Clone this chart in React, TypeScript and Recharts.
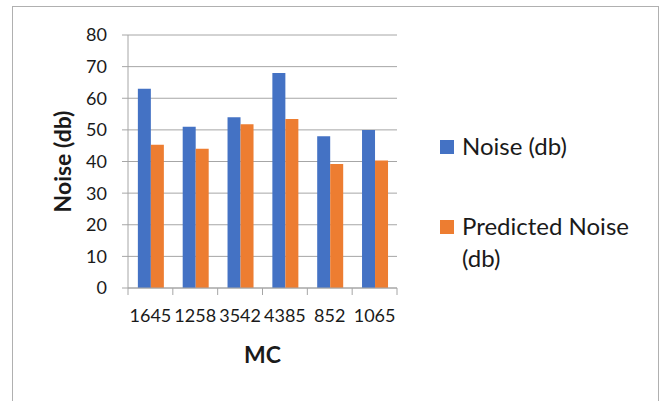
import React from "react";
import { BarChart, Bar, XAxis, YAxis, CartesianGrid } from "recharts";

const categories = ["1645", "1258", "3542", "4385", "852", "1065"];
const noise = [63, 51, 54, 68, 48, 50];
const predicted = [45.3, 44, 51.8, 53.4, 39.2, 40.3];
const yTicks = [0, 10, 20, 30, 40, 50, 60, 70, 80];

const series = [
  { key: "noise", name: "Noise (db)", color: "#4472C4" },
  { key: "predicted", name: "Predicted Noise (db)", color: "#ED7D31" },
];

const data = categories.map((mc, i) => ({ mc, noise: noise[i], predicted: predicted[i] }));

const W = 662;
const H = 401;
const Y_AXIS_W = 128;
const X_AXIS_H = 113;
const MARGIN = { top: 35, right: 265, bottom: 0, left: 0 };
const PLOT_W = W - Y_AXIS_W - MARGIN.right;
const BAND = PLOT_W / categories.length;
const GRID = "#a6a6a6";
const FONT = "Lato, 'Open Sans', sans-serif";

function XTick(props: any) {
  const { x, y, payload, index } = props;
  const axisY = y - 21;
  return (
    <g>
      <line x1={x - BAND / 2} x2={x - BAND / 2} y1={axisY} y2={axisY + 7} stroke={GRID} />
      {index === categories.length - 1 && (
        <line x1={x + BAND / 2} x2={x + BAND / 2} y1={axisY} y2={axisY + 7} stroke={GRID} />
      )}
      <text x={x} y={y} dy="0.71em" textAnchor="middle" fontSize={18} fill="#1a1a1a" fontFamily={FONT}>
        {payload.value}
      </text>
    </g>
  );
}

export default function App() {
  return (
    <div style={{ position: "absolute", left: 0, top: 0, width: W, height: H, background: "#fff", overflow: "hidden", fontFamily: FONT }}>
      <div style={{ position: "absolute", left: 12, top: 6, width: 645, height: 420, border: "1px solid #b0b0b0" }} />
      <div style={{ position: "absolute", left: 0, top: 0 }}>
        <BarChart width={W} height={H} data={data} margin={MARGIN} barCategoryGap="22%" barGap={0}>
          <CartesianGrid vertical={false} stroke={GRID} />
          <XAxis
            dataKey="mc"
            height={X_AXIS_H}
            axisLine={{ stroke: GRID }}
            tickLine={false}
            tickSize={7}
            tickMargin={14}
            interval={0}
            tick={<XTick />}
            label={{
              content: (p: any) => {
                const vb = p.viewBox;
                return (
                  <text x={vb.x + vb.width / 2} y={vb.y + 75} textAnchor="middle" fontSize={23} fontWeight="bold" fill="#1a1a1a" fontFamily={FONT}>
                    MC
                  </text>
                );
              },
            }}
          />
          <YAxis
            width={Y_AXIS_W}
            domain={[0, 80]}
            ticks={yTicks}
            interval={0}
            axisLine={{ stroke: GRID }}
            tickLine={{ stroke: GRID }}
            tickSize={6}
            tickMargin={15}
            tick={{ fontSize: 18, fill: "#1a1a1a", fontFamily: FONT }}
            label={{
              content: (p: any) => {
                const vb = p.viewBox;
                const cx = vb.x + 62;
                const cy = vb.y + vb.height / 2;
                return (
                  <text x={cx} y={cy} transform={`rotate(-90 ${cx} ${cy})`} textAnchor="middle" dominantBaseline="central" fontSize={23} fontWeight="bold" fill="#1a1a1a" fontFamily={FONT}>
                    Noise (db)
                  </text>
                );
              },
            }}
          />
          {series.map((s) => (
            <Bar key={s.key} dataKey={s.key} name={s.name} fill={s.color} isAnimationActive={false} />
          ))}
        </BarChart>
      </div>
      <div style={{ position: "absolute", left: 440, top: 130, width: 210 }}>
        {series.map((s, i) => (
          <div key={s.key} style={{ display: "flex", alignItems: "flex-start", marginTop: i === 0 ? 0 : 48 }}>
            <div style={{ width: 14, height: 14, background: s.color, marginTop: 10, marginRight: 8, flexShrink: 0 }} />
            <div style={{ fontSize: 24, lineHeight: "32px", color: "#1a1a1a", width: 190 }}>{s.name}</div>
          </div>
        ))}
      </div>
    </div>
  );
}
